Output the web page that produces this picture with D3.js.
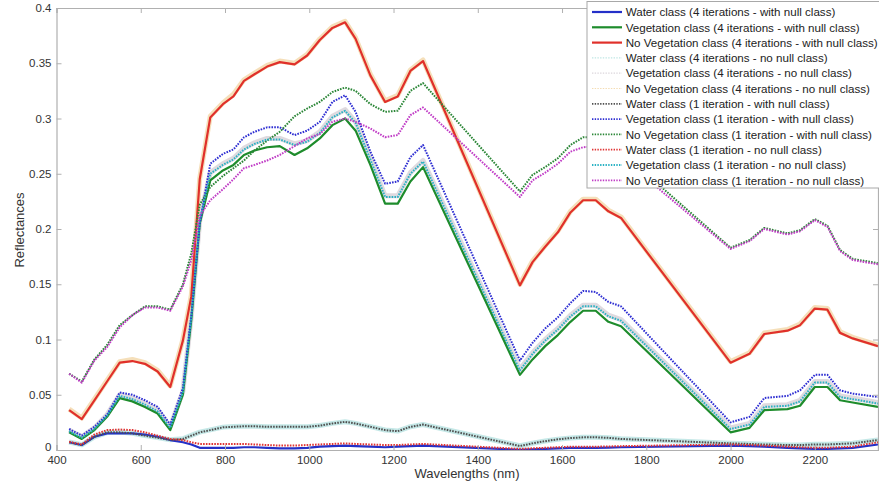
<!DOCTYPE html>
<html>
<head>
<meta charset="utf-8">
<script src="https://cdn.jsdelivr.net/npm/d3@7"></script>
<style>
  html, body { margin: 0; padding: 0; background: #fff; }
  svg { display: block; font-family: Arial, "Liberation Sans", sans-serif; }
</style>
</head>
<body>
<svg id="chart" width="879" height="488"></svg>
<script>
// Band centres (nm) of the resampled spectra
const wavelengths = [430,460,490,520,550,580,610,640,670,700,720,740,765,795,820,845,870,900,930,965,
  995,1025,1055,1085,1110,1145,1180,1210,1240,1270,1500,1530,1560,1590,1620,1650,1680,1710,1740,
  2000,2045,2080,2135,2165,2200,2230,2260,2290,2350];

// Mean reflectance per class
const water4Null = [.007,.0045,.012,.015,.015,.015,.014,.012,.009,.007,.005,.002,.002,.002,.002,.0025,.0025,.002,.0015,.0015,
  .002,.003,.0035,.004,.0035,.003,.0025,.003,.0035,.004,.0002,.0005,.001,.0015,.002,.002,.002,.0022,.0025,
  .004,.0035,.003,.002,.0015,.001,.001,.0015,.002,.005];
const veg4Null = [.016,.010,.018,.030,.047,.044,.039,.033,.018,.050,.118,.205,.244,.253,.258,.267,.271,.274,.275,.267,
  .273,.282,.294,.300,.289,.258,.223,.223,.243,.256,.068,.082,.094,.104,.116,.126,.126,.116,.112,
  .016,.020,.036,.037,.040,.057,.057,.045,.043,.039];
const noVeg4Null = [.036,.028,.045,.062,.079,.0805,.078,.071,.057,.099,.139,.245,.301,.313,.320,.334,.340,.347,.351,.349,
  .357,.371,.382,.387,.372,.339,.315,.320,.343,.352,.149,.170,.184,.197,.215,.226,.226,.216,.210,
  .079,.087,.105,.108,.113,.128,.127,.106,.101,.094];
const water4NoNull = [.0072,.0047,.0118,.0158,.0162,.0152,.0132,.0112,.0092,.0102,.0132,.0162,.0182,.0207,.0212,.0216,.0216,.0211,.0211,.0211,
  .0211,.0221,.0241,.0256,.0241,.0211,.0181,.0171,.0211,.0231,.0038,.0061,.0081,.0098,.0109,.0116,.0116,.0111,.0101,
  .0061,.0056,.0051,.0046,.0046,.0051,.0051,.0056,.0061,.0091];
const veg4NoNull = [.018,.012,.020,.032,.050,.047,.042,.036,.021,.053,.121,.208,.251,.259,.264,.273,.278,.282,.282,.277,
  .280,.288,.302,.308,.297,.264,.230,.230,.251,.262,.073,.088,.100,.110,.122,.131,.131,.122,.118,
  .020,.024,.040,.041,.045,.062,.062,.049,.047,.043];
const noVeg4NoNull = [.037,.029,.046,.063,.080,.082,.079,.072,.058,.100,.140,.246,.302,.314,.322,.335,.341,.348,.352,.350,
  .358,.372,.383,.388,.373,.340,.316,.321,.344,.353,.150,.171,.185,.198,.216,.227,.227,.217,.211,
  .080,.088,.106,.109,.114,.129,.128,.107,.102,.095];
const water1Null = [.007,.0045,.012,.016,.016,.015,.013,.011,.009,.010,.013,.016,.018,.0205,.021,.0215,.0215,.021,.021,.021,
  .021,.022,.024,.0255,.024,.021,.018,.017,.021,.023,.0036,.006,.008,.0097,.0108,.0115,.0115,.011,.010,
  .006,.0055,.005,.0045,.0045,.005,.005,.0055,.006,.009];
const veg1Null = [.019,.013,.021,.032,.052,.050,.045,.039,.023,.056,.122,.205,.259,.268,.272,.283,.288,.292,.292,.285,
  .289,.297,.315,.321,.306,.270,.241,.243,.265,.276,.081,.097,.110,.120,.133,.144,.143,.134,.130,
  .025,.030,.047,.049,.054,.068,.068,.054,.051,.048];
const noVeg1Null = [.069,.062,.082,.095,.113,.122,.130,.130,.127,.150,.178,.222,.238,.248,.255,.262,.271,.280,.288,.302,
  .309,.315,.324,.328,.325,.313,.306,.307,.325,.332,.234,.249,.256,.264,.276,.283,.283,.277,.270,
  .183,.190,.201,.196,.199,.209,.203,.181,.173,.169];
const water1NoNull = [.0075,.005,.014,.018,.0185,.018,.016,.013,.010,.009,.007,.0055,.0055,.0055,.0055,.0055,.005,.0045,.004,.004,
  .0045,.005,.0055,.006,.0055,.005,.0045,.0045,.005,.0055,.001,.0015,.002,.0025,.003,.003,.003,.0032,.0035,
  .005,.0045,.004,.003,.0025,.002,.002,.0025,.003,.007];
const veg1NoNull = [.017,.011,.019,.031,.049,.046,.041,.035,.020,.052,.120,.207,.250,.258,.263,.272,.277,.281,.281,.276,
  .279,.287,.301,.307,.296,.263,.229,.229,.250,.261,.072,.087,.099,.109,.121,.130,.130,.121,.117,
  .019,.023,.039,.040,.044,.061,.061,.048,.046,.042];
const noVeg1NoNull = [.069,.061,.081,.093,.111,.122,.129,.129,.126,.148,.172,.212,.226,.236,.245,.255,.258,.262,.267,.275,
  .282,.286,.297,.300,.297,.291,.283,.285,.303,.310,.229,.244,.251,.259,.270,.274,.275,.270,.265,
  .182,.189,.200,.195,.198,.208,.202,.180,.172,.168];

const seriesNames = [
  "Water class (4 iterations - with null class)",
  "Vegetation class (4 iterations - with null class)",
  "No Vegetation class (4 iterations - with null class)",
  "Water class (4 iterations - no null class)",
  "Vegetation class (4 iterations - no null class)",
  "No Vegetation class (4 iterations - no null class)",
  "Water class (1 iteration - with null class)",
  "Vegetation class (1 iteration - with null class)",
  "No Vegetation class (1 iteration - with null class)",
  "Water class (1 iteration - no null class)",
  "Vegetation class (1 iteration - no null class)",
  "No Vegetation class (1 iteration - no null class)"
];
const seriesValues = [water4Null, veg4Null, noVeg4Null, water4NoNull, veg4NoNull, noVeg4NoNull,
  water1Null, veg1Null, noVeg1Null, water1NoNull, veg1NoNull, noVeg1NoNull];

const xTicks = [400,600,800,1000,1200,1400,1600,1800,2000,2200];
const yTicks = [0,0.05,0.1,0.15,0.2,0.25,0.3,0.35,0.4];

// Line styling: kind "solid", "halo" (pale wide), "dot"
const styles = [
  {color:"#2430c8", kind:"solid"},
  {color:"#1e8c2c", kind:"solid"},
  {color:"#e0302a", kind:"solid"},
  {color:"#bfe6e4", kind:"halo"},
  {color:"#dcd6dc", kind:"halo"},
  {color:"#f4dcb2", kind:"halo"},
  {color:"#505050", kind:"dot"},
  {color:"#2e2ed2", kind:"dot"},
  {color:"#2a8636", kind:"dot"},
  {color:"#e03434", kind:"dot"},
  {color:"#2ab2c4", kind:"dot"},
  {color:"#c03cc6", kind:"dot"}
];

const svg = d3.select("#chart");
const m = {left: 56.5, right: 878, top: 8, bottom: 450};

const x = d3.scaleLinear().domain([400, 2350]).range([m.left, m.right]);
const y = d3.scaleLinear().domain([0, 0.4]).range([m.bottom, m.top]);

const series = seriesNames.map((name, i) => ({
  name, style: styles[i],
  points: wavelengths.map((w, j) => [w, seriesValues[i][j]])
}));

const line = d3.line().x(d => x(d[0])).y(d => y(d[1]));

const plot = svg.append("g");
plot.append("clipPath").attr("id", "clip").append("rect")
  .attr("x", m.left).attr("y", m.top).attr("width", m.right - m.left).attr("height", m.bottom - m.top);
const lines = plot.append("g").attr("clip-path", "url(#clip)");

// pale wide strokes underneath, then solid, then dotted
const order = ["halo", "solid", "dot"];
order.forEach(kind => {
  series.filter(s => s.style.kind === kind).forEach(s => {
    const p = lines.append("path").datum(s.points)
      .attr("d", line).attr("fill", "none")
      .attr("stroke", s.style.color)
      .attr("stroke-linejoin", "round");
    if (kind === "halo") p.attr("stroke-width", 5).attr("stroke-opacity", 0.9);
    else if (kind === "solid") p.attr("stroke-width", 2.2);
    else p.attr("stroke-width", 2).attr("stroke-dasharray", "1.6,1.2");
  });
});

// Axes with inward ticks on all four sides
const axisColor = "#b0b0b0";
const fmt = d => d === 0 ? "0" : d3.format("~g")(d);
const gx = svg.append("g").attr("transform", `translate(0,${m.bottom})`)
  .call(d3.axisBottom(x).tickValues(xTicks).tickSize(-5).tickPadding(6).tickFormat(d3.format("d")));
const gy = svg.append("g").attr("transform", `translate(${m.left},0)`)
  .call(d3.axisLeft(y).tickValues(yTicks).tickSize(-5).tickPadding(5).tickFormat(fmt));
const gt = svg.append("g").attr("transform", `translate(0,${m.top})`)
  .call(d3.axisTop(x).tickValues(xTicks).tickSize(-5).tickFormat(""));
const gr = svg.append("g").attr("transform", `translate(${m.right},0)`)
  .call(d3.axisRight(y).tickValues(yTicks).tickSize(-5).tickFormat(""));
[gx, gy, gt, gr].forEach(g => {
  g.select(".domain").attr("stroke", axisColor).attr("stroke-width", 1.2);
  g.selectAll(".tick line").attr("stroke", axisColor);
  g.selectAll(".tick text").attr("fill", "#333").style("font-size", "11.5px")
    .style("font-family", "Arial, 'Liberation Sans', sans-serif");
});
// the zero label sits just above the corner so it clears the first wavelength label
gy.selectAll(".tick text").filter(d => d === 0).attr("dy", "0.05em");

svg.append("text").attr("x", 467).attr("y", 478).attr("text-anchor", "middle")
  .attr("fill", "#333").style("font-size", "13px").text("Wavelengths (nm)");
svg.append("text").attr("transform", "translate(24,230) rotate(-90)").attr("text-anchor", "middle")
  .attr("fill", "#333").style("font-size", "13px").text("Reflectances");

// Legend
const lg = svg.append("g").attr("transform", "translate(587,1.5)");
lg.append("rect").attr("x", 0).attr("y", 0).attr("width", 320).attr("height", 186.5)
  .attr("fill", "#fff").attr("stroke", "#a8a8a8").attr("stroke-width", 1);
series.forEach((s, i) => {
  const cy = 10.5 + i * 15.3;
  const ln = lg.append("line").attr("x1", 5).attr("x2", 35).attr("y1", cy).attr("y2", cy)
    .attr("stroke", s.style.color);
  if (s.style.kind === "solid") ln.attr("stroke-width", 2.2);
  else if (s.style.kind === "halo") ln.attr("stroke-width", 1.2).attr("stroke-dasharray", "1.4,1.3");
  else ln.attr("stroke-width", 1.8).attr("stroke-dasharray", "1.4,1.3");
  lg.append("text").attr("x", 38.7).attr("y", cy + 4.2).attr("fill", "#222")
    .style("font-size", "11.6px").text(s.name);
});
</script>
</body>
</html>
